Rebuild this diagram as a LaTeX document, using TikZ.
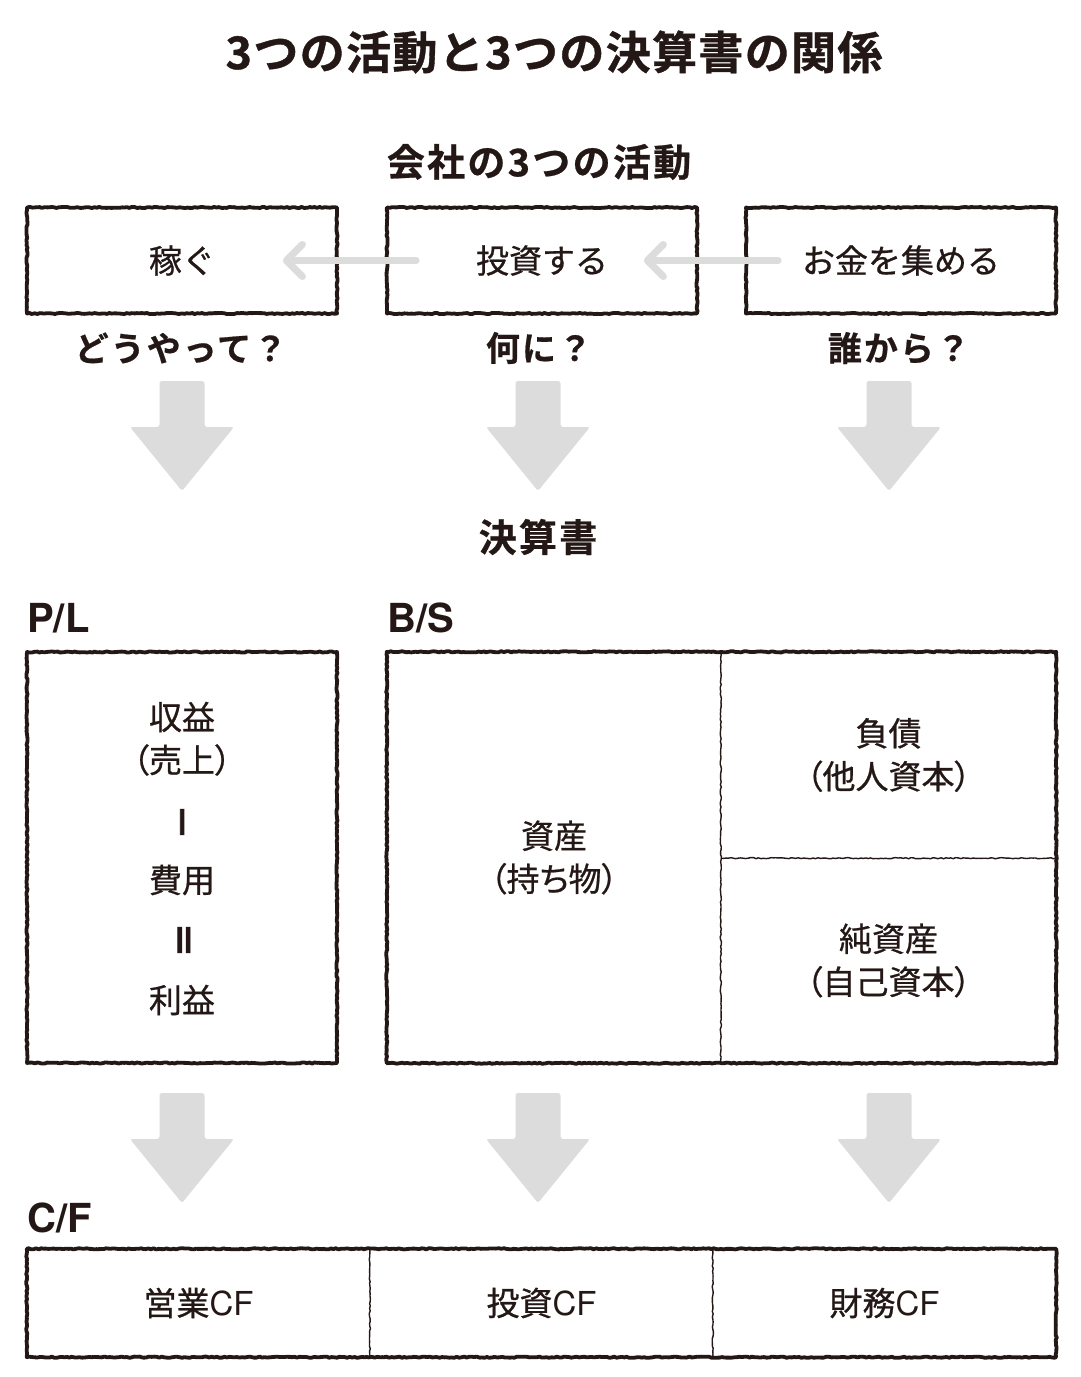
\documentclass[tikz,border=0pt]{standalone}
\usepackage{fontspec}
\setmainfont{Noto Sans CJK JP}[BoldFont={* Bold}]
\newfontfamily\boxfont{Noto Sans CJK JP}[FakeBold=0.7]
\newfontfamily\boxfontp{Noto Sans CJK JP}[FakeBold=0.7, RawFeature=+palt]
\newfontfamily\barfont{Noto Sans CJK JP Bold}[FakeBold=2.5]
\newfontfamily\headfont{Noto Sans CJK JP Bold}[LetterSpace=6, FakeBold=0.6]
\newfontfamily\titlefont{Noto Sans CJK JP Bold}[LetterSpace=3, FakeBold=0.8]
\newfontfamily\latinbold{TeX Gyre Heros}[BoldFont={* Bold}]
\newfontfamily\latin{TeX Gyre Heros}
\usetikzlibrary{decorations.pathmorphing,arrows.meta}
\definecolor{ink}{HTML}{231815}
\definecolor{arrowgrey}{HTML}{DCDCDC}
\tikzset{
  rough/.style={decorate, decoration={random steps, segment length=2.5pt, amplitude=0.6pt}},
  frame/.style={draw=ink, line width=3.8pt, line join=round, rough},
  divider/.style={draw=ink, line width=1.4pt, rough},
  boxtext/.style={text=ink, font=\boxfont\fontsize{33}{43}\selectfont, align=center, inner sep=0pt},
  actbox/.style={frame, boxtext, minimum width=310pt, minimum height=106pt},
  headA/.style={text=ink, font=\titlefont\fontsize{45}{50}\selectfont, inner sep=0pt},
  headB/.style={text=ink, font=\headfont\fontsize{38}{44}\selectfont, inner sep=0pt},
  question/.style={text=ink, font=\headfont\fontsize{34}{40}\selectfont, inner sep=0pt},
  tag/.style={text=ink, font=\latinbold\bfseries\fontsize{40}{44}\selectfont, inner sep=0pt, anchor=base west},
  bar/.style={text=ink, font=\barfont\fontsize{36}{40}\selectfont, inner sep=0pt, rotate=90},
  greyarrow/.style={draw=arrowgrey, line width=7pt, line cap=round,
     -{Straight Barb[round, length=16pt, width=32pt]}},
}
\newcommand{\blockdown}[2]{%
  \fill[arrowgrey, rounded corners=2.5pt]
    ({#1-22.5},#2) -- ({#1+22.5},#2) -- ({#1+22.5},{#2+46}) -- ({#1+52},{#2+46})
    -- (#1,{#2+110}) -- ({#1-52},{#2+46}) -- ({#1-22.5},{#2+46}) -- cycle;}
\begin{document}
\begin{tikzpicture}[x=1pt,y=-1pt]
\useasboundingbox[fill=white] (0,0) rectangle (1080,1377);

% Titles
\node[headA] (title) at (554,52) {3つの活動と3つの決算書の関係};
\node[headB] (acthead) at (539,162) {会社の3つの活動};

% Activity boxes
\node[actbox] (kasegu) at (182,260.5) {稼ぐ};
\node[actbox] (toushi) at (542,260.5) {投資する};
\node[actbox] (atsume) at (901,260.5) {お金を集める};

\draw[greyarrow] ([xshift=31pt]toushi.west) -- ([xshift=-56pt]kasegu.east);
\draw[greyarrow] ([xshift=34pt]atsume.west) -- ([xshift=-55pt]toushi.east);

% Questions
\node[question] (q1) at (181,348) {どうやって？};
\node[question] (q2) at (539,348) {何に？};
\node[question] (q3) at (899,348) {誰から？};

% Block arrows (upper)
\blockdown{182}{381}
\blockdown{538}{381}
\blockdown{889}{381}

\node[headB] (kessan) at (538,537) {決算書};

% P/L
\node[tag] (pltag) at (27,632) {P/L};
\node[frame, minimum width=310pt, minimum height=411pt] (pl) at (182,857.5) {};
\node[boxtext] (pl1) at (182,717) {収益};
\node[boxtext, font=\boxfontp\fontsize{33}{43}\selectfont] (pl2) at (182,760) {（売上）};
\node[bar] (pl3) at (188,822) {－};
\node[boxtext] (pl4) at (182,880) {費用};
\node[bar] (pl5) at (188,940) {＝};
\node[boxtext] (pl6) at (182,1000) {利益};

% B/S
\node[tag] (bstag) at (387,632) {B/S};
\node[boxtext, minimum width=334pt, minimum height=411pt] (asset) at (554,857.5) {資産\\{\boxfontp （持ち物）}};
\node[boxtext, minimum width=335pt, minimum height=206pt] (liab) at (888.5,755) {負債\\{\boxfontp （他人資本）}};
\node[boxtext, minimum width=335pt, minimum height=205pt] (equity) at (888.5,960.5) {純資産\\{\boxfontp （自己資本）}};
\draw[divider] (liab.north west) -- (equity.south west);
\draw[divider] (liab.south west) -- (liab.south east);
\draw[frame] (asset.north west) rectangle (equity.south east);

% Block arrows (lower)
\blockdown{182}{1093}
\blockdown{538}{1093}
\blockdown{889}{1093}

% C/F
\node[tag] (cftag) at (27,1232) {C/F};
\node[boxtext, minimum width=343pt, minimum height=108pt] (cf1) at (198.5,1303) {営業{\latin CF}};
\node[boxtext, minimum width=343pt, minimum height=108pt] (cf2) at (541.5,1303) {投資{\latin CF}};
\node[boxtext, minimum width=343pt, minimum height=108pt] (cf3) at (884.5,1303) {財務{\latin CF}};
\draw[divider] (cf2.north west) -- (cf2.south west);
\draw[divider] (cf3.north west) -- (cf3.south west);
\draw[frame] (cf1.north west) rectangle (cf3.south east);
\end{tikzpicture}
\end{document}
